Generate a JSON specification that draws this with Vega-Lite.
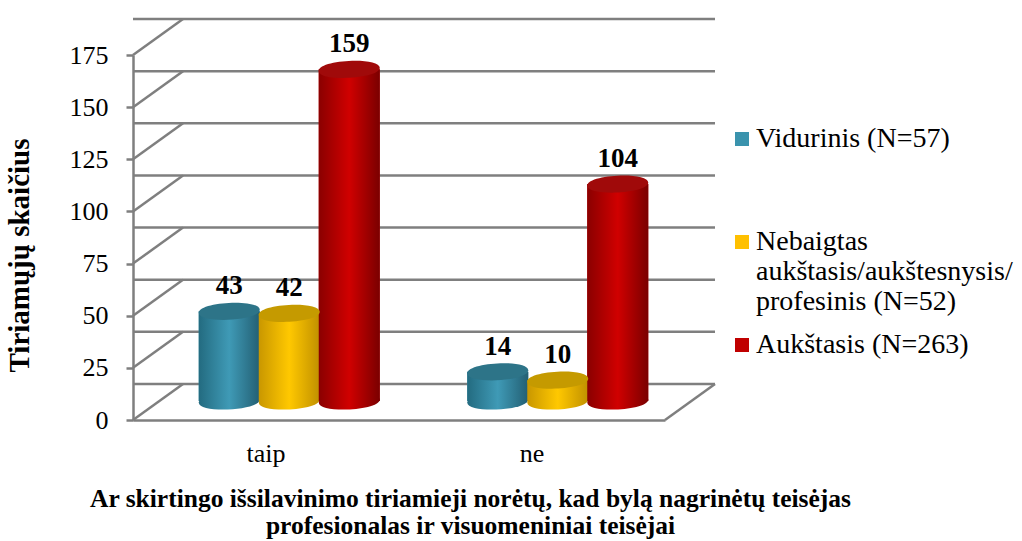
{
"$schema":"https://vega.github.io/schema/vega-lite/v6.json",
"width":532,"height":365,
"autosize":"none",
"padding":{"left":133,"top":55,"right":357,"bottom":121},
"background":"white",
"config":{"view":{"stroke":null},"font":"Liberation Serif"},
"resolve":{"scale":{"x":"independent","xOffset":"independent"}},
"datasets":{
"bars":[
{"atsakymas":"taip","grupe":"Vidurinis (N=57)","n":43},
{"atsakymas":"taip","grupe":"Nebaigtas aukštasis/aukštesnysis/ profesinis (N=52)","n":42},
{"atsakymas":"taip","grupe":"Aukštasis (N=263)","n":159},
{"atsakymas":"ne","grupe":"Vidurinis (N=57)","n":14},
{"atsakymas":"ne","grupe":"Nebaigtas aukštasis/aukštesnysis/ profesinis (N=52)","n":10},
{"atsakymas":"ne","grupe":"Aukštasis (N=263)","n":104}
],
"grid":[{"t":0},{"t":25},{"t":50},{"t":75},{"t":100},{"t":125},{"t":150},{"t":175}]
},
"layer":[
{"data":{"name":"grid"},"mark":{"type":"rule","stroke":"#7f7f7f","strokeWidth":2.5,"xOffset":50,"x2Offset":55,"yOffset":-36,"clip":false},
"encoding":{"y":{"field":"t","type":"quantitative","scale":{"domain":[0,175],"nice":false},"axis":{"title":"Tiriamųjų skaičius","titleFont":"Liberation Serif","titleFontSize":29,"titleFontWeight":"bold","titleColor":"black","titleX":-99,"titleY":200,"labelFontSize":26,"labelColor":"black","labelPadding":18,"labelFont":"Liberation Serif","tickSize":7,"tickWidth":2.5,"tickColor":"#7f7f7f","domainColor":"#7f7f7f","domainWidth":2.5,"grid":false,"values":[0,25,50,75,100,125,150,175]}}}},
{"data":{"name":"grid"},"mark":{"type":"point","shape":"M0,0L1,-0.72","size":10000,"filled":false,"stroke":"#7f7f7f","strokeWidth":2.5,"opacity":1,"xOffset":-266,"clip":false},
"encoding":{"y":{"field":"t","type":"quantitative"}}},
{"data":{"name":"grid"},"transform":[{"filter":"datum.t==0"}],"mark":{"type":"point","shape":"M0,0L1,-0.72","size":10000,"filled":false,"stroke":"#7f7f7f","strokeWidth":2.5,"opacity":1,"xOffset":266,"clip":false},
"encoding":{"y":{"field":"t","type":"quantitative"}}},
{"data":{"name":"bars"},"mark":{"type":"rule","opacity":0},
"encoding":{
"x":{"field":"atsakymas","type":"nominal","sort":["taip","ne"],"scale":{"paddingInner":0,"paddingOuter":0},
"axis":{"title":["Ar  skirtingo išsilavinimo tiriamieji norėtų, kad bylą nagrinėtų teisėjas","profesionalas ir visuomeniniai teisėjai"],"titleFont":"Liberation Serif","titleFontSize":25.5,"titleFontWeight":"bold","titleColor":"black","titleLineHeight":27,"titleX":337,"titleY":66,"labelAngle":0,"labelFontSize":26,"labelFont":"Liberation Serif","labelColor":"black","labelPadding":20,"tickSize":0,"domainColor":"#7f7f7f","domainWidth":2.5}}
}},
{"data":{"name":"bars"},"mark":{"type":"bar","yOffset":-19,"y2Offset":-19,"width":61,"clip":false},
"encoding":{
"x":{"field":"atsakymas","type":"nominal","sort":["taip","ne"],"scale":{"paddingInner":0,"paddingOuter":0,"range":[22,559]},"axis":null},
"xOffset":{"field":"grupe","sort":null,"scale":{"paddingInner":0,"paddingOuter":0.7375}},
"y":{"field":"n","type":"quantitative"},"y2":{"datum":0},
"fill":{"field":"grupe","type":"nominal","sort":null,"scale":{"domain":["Vidurinis (N=57)","Nebaigtas aukštasis/aukštesnysis/ profesinis (N=52)","Aukštasis (N=263)"],"range":["#3a93ad","#ffc000","#c00000"]},
"legend":{"orient":"none","legendX":595,"legendY":70,"title":null,"symbolType":"square","symbolSize":196,"symbolStrokeWidth":0,"labelFontSize":28,"labelFont":"Liberation Serif","labelColor":"black","labelLimit":300,"labelOffset":0,"rowPadding":15,"labelExpr":"datum.label=='Vidurinis (N=57)'?['Vidurinis (N=57)','','']:datum.label=='Aukštasis (N=263)'?datum.label:['Nebaigtas','aukštasis/aukštesnysis/','profesinis (N=52)']"}}
}},
{"data":{"name":"bars"},"mark":{"type":"point","filled":true,"opacity":1,"shape":"M-1,0.05C-1,-0.32,1,-0.42,1,-0.05C1,0.32,-1,0.42,-1,0.05Z","size":3721,"yOffset":-19,"clip":false},
"encoding":{
"x":{"field":"atsakymas","type":"nominal","sort":["taip","ne"],"scale":{"paddingInner":0,"paddingOuter":0,"range":[22,559]},"axis":null},
"xOffset":{"field":"grupe","sort":null,"scale":{"type":"band","paddingInner":0,"paddingOuter":0.7375}},
"y":{"datum":0,"type":"quantitative"},
"fill":{"condition":[
{"test":"datum.grupe=='Vidurinis (N=57)'","value":{"gradient":"linear","x1":0,"y1":0,"x2":1,"y2":0,"stops":[{"offset":0,"color":"#236b80"},{"offset":0.5,"color":"#3f9ab6"},{"offset":1,"color":"#235f73"}]}},
{"test":"datum.n==42||datum.n==10","value":{"gradient":"linear","x1":0,"y1":0,"x2":1,"y2":0,"stops":[{"offset":0,"color":"#c99700"},{"offset":0.5,"color":"#ffc800"},{"offset":1,"color":"#c09000"}]}}],
"value":{"gradient":"linear","x1":0,"y1":0,"x2":1,"y2":0,"stops":[{"offset":0,"color":"#8a0000"},{"offset":0.5,"color":"#d00000"},{"offset":1,"color":"#7a0000"}]}}
}},
{"data":{"name":"bars"},"mark":{"type":"bar","yOffset":-19,"y2Offset":-19,"width":61,"clip":false},
"encoding":{
"x":{"field":"atsakymas","type":"nominal","sort":["taip","ne"],"scale":{"paddingInner":0,"paddingOuter":0,"range":[22,559]},"axis":null},
"xOffset":{"field":"grupe","sort":null,"scale":{"paddingInner":0,"paddingOuter":0.7375}},
"y":{"field":"n","type":"quantitative"},"y2":{"datum":0},
"fill":{"condition":[
{"test":"datum.grupe=='Vidurinis (N=57)'","value":{"gradient":"linear","x1":0,"y1":0,"x2":1,"y2":0,"stops":[{"offset":0,"color":"#236b80"},{"offset":0.5,"color":"#3f9ab6"},{"offset":1,"color":"#235f73"}]}},
{"test":"datum.n==42||datum.n==10","value":{"gradient":"linear","x1":0,"y1":0,"x2":1,"y2":0,"stops":[{"offset":0,"color":"#c99700"},{"offset":0.5,"color":"#ffc800"},{"offset":1,"color":"#c09000"}]}}],
"value":{"gradient":"linear","x1":0,"y1":0,"x2":1,"y2":0,"stops":[{"offset":0,"color":"#8a0000"},{"offset":0.5,"color":"#d00000"},{"offset":1,"color":"#7a0000"}]}}
}},
{"data":{"name":"bars"},"mark":{"type":"point","filled":true,"opacity":1,"shape":"M-1,0.05C-1,-0.32,1,-0.42,1,-0.05C1,0.32,-1,0.42,-1,0.05Z","size":3721,"yOffset":-19,"clip":false},
"encoding":{
"x":{"field":"atsakymas","type":"nominal","sort":["taip","ne"],"scale":{"paddingInner":0,"paddingOuter":0,"range":[22,559]},"axis":null},
"xOffset":{"field":"grupe","sort":null,"scale":{"type":"band","paddingInner":0,"paddingOuter":0.7375}},
"y":{"field":"n","type":"quantitative"},
"fill":{"condition":[
{"test":"datum.grupe=='Vidurinis (N=57)'","value":"#2d7488"},
{"test":"datum.n==42||datum.n==10","value":"#c59a00"}],
"value":"#a00a0a"}
}},
{"data":{"name":"bars"},"mark":{"type":"text","font":"Liberation Serif","fontSize":27,"fontWeight":"bold","color":"black","yOffset":-44,"clip":false},
"encoding":{
"x":{"field":"atsakymas","type":"nominal","sort":["taip","ne"],"scale":{"paddingInner":0,"paddingOuter":0,"range":[22,559]},"axis":null},
"xOffset":{"field":"grupe","sort":null,"scale":{"type":"band","paddingInner":0,"paddingOuter":0.7375}},
"y":{"field":"n","type":"quantitative"},
"text":{"field":"n","type":"quantitative"}
}}
]
}
